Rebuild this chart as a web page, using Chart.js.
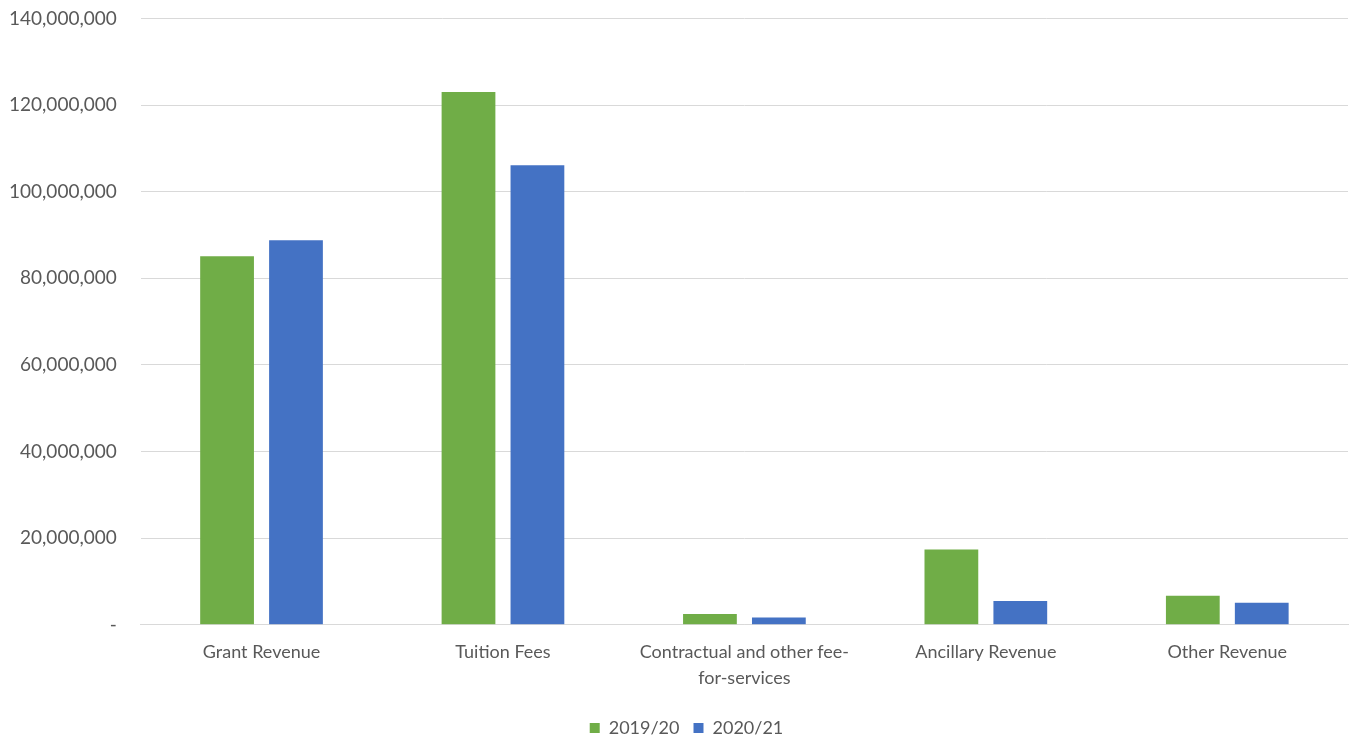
<!DOCTYPE html>
<html>
<head>
<meta charset="utf-8">
<script src="https://cdn.jsdelivr.net/npm/chart.js@4/dist/chart.umd.min.js"></script>
<style>
    html, body { margin: 0; padding: 0; background: #fff; overflow: hidden; }
    #wrap { width: 1370px; height: 766px; margin-left: -15px; margin-top: -17px; position: relative; }
</style>
</head>
<body>
<div id="wrap"><canvas id="revChart"></canvas></div>
<script>
const categories = [
    'Grant Revenue',
    'Tuition Fees',
    ['Contractual and other fee-', 'for-services'],
    'Ancillary Revenue',
    'Other Revenue'
];
const rev2019 = [85100000, 123000000, 2500000, 17400000, 6700000];
const rev2020 = [88800000, 106100000, 1700000, 5500000, 5100000];
const yTicks = [0, 20000000, 40000000, 60000000, 80000000, 100000000, 120000000, 140000000];

const textColor = '#595959';
const gridColor = '#d9d9d9';
const fontFamily = "Lato, 'Open Sans', sans-serif";

// legend sits a bit right of the canvas centre in the original
const legendShift = {
    id: 'legendShift',
    afterLayout(c) {
        c.legend.left += 20;
        c.legend.right += 20;
    }
};

const ctx = document.getElementById('revChart').getContext('2d');
const chart = new Chart(ctx, {
    type: 'bar',
    data: {
        labels: categories,
        datasets: [
            {
                label: '2019/20',
                data: rev2019,
                backgroundColor: '#70ad47',
                categoryPercentage: 0.571,
                barPercentage: 0.78
            },
            {
                label: '2020/21',
                data: rev2020,
                backgroundColor: '#4472c4',
                categoryPercentage: 0.571,
                barPercentage: 0.78
            }
        ]
    },
    options: {
        responsive: true,
        maintainAspectRatio: false,
        animation: false,
        layout: { padding: { top: 0, right: 7, left: 0, bottom: 2 } },
        scales: {
            y: {
                min: 0,
                max: 140000000,
                afterBuildTicks: (axis) => {
                    axis.ticks = yTicks.map(v => ({ value: v }));
                },
                grid: { color: gridColor, lineWidth: 1, drawTicks: false },
                border: { display: false },
                ticks: {
                    padding: 24,
                    color: textColor,
                    font: { family: fontFamily, size: 19 },
                    callback: (v) => v === 0 ? '-' : v.toLocaleString('en-US')
                }
            },
            x: {
                grid: { display: false, drawTicks: false },
                border: { display: true, color: gridColor },
                ticks: {
                    padding: 14,
                    color: textColor,
                    maxRotation: 0,
                    autoSkip: false,
                    font: { family: fontFamily, size: 18, lineHeight: 1.45 }
                }
            }
        },
        plugins: {
            legend: {
                position: 'bottom',
                labels: {
                    boxWidth: 10,
                    boxHeight: 10,
                    padding: 14,
                    color: textColor,
                    font: { family: fontFamily, size: 18 }
                }
            },
            tooltip: { enabled: false }
        }
    },
    plugins: [legendShift]
});
</script>
</body>
</html>
